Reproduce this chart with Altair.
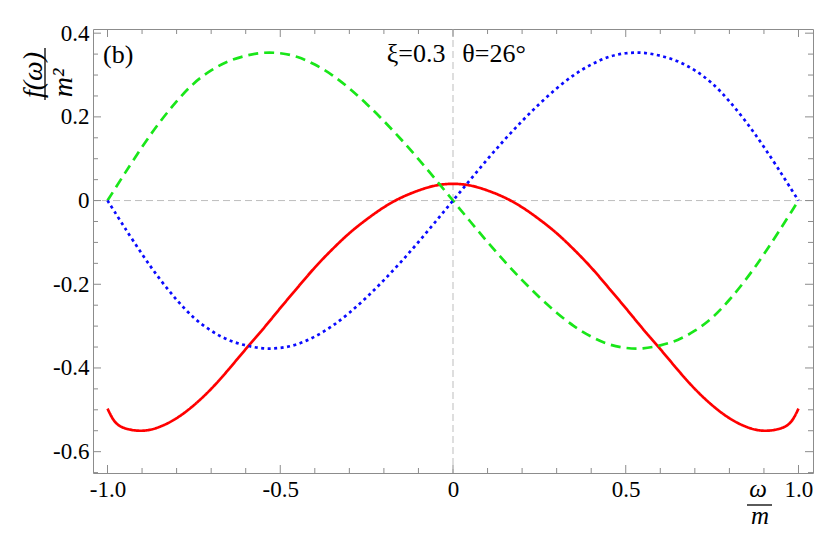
import altair as alt
import pandas as pd

# ---- data ----
omega = [-1.0, -0.98, -0.95, -0.9, -0.85, -0.8, -0.75, -0.7, -0.65, -0.6, -0.55,
         -0.5, -0.45, -0.4, -0.35, -0.3, -0.25, -0.2, -0.15, -0.1, -0.05, 0.0,
         0.05, 0.1, 0.15, 0.2, 0.25, 0.3, 0.35, 0.4, 0.45, 0.5,
         0.55, 0.6, 0.65, 0.7, 0.75, 0.8, 0.85, 0.9, 0.95, 0.98, 1.0]

red = [-0.497, -0.527, -0.544, -0.550, -0.541, -0.520, -0.489, -0.450, -0.404, -0.355, -0.307,
       -0.257, -0.208, -0.160, -0.117, -0.078, -0.045, -0.016, 0.007, 0.024, 0.036, 0.040,
       0.036, 0.024, 0.007, -0.016, -0.045, -0.078, -0.117, -0.160, -0.208, -0.257,
       -0.307, -0.355, -0.404, -0.450, -0.489, -0.520, -0.541, -0.550, -0.544, -0.527, -0.497]

green = [0.0, 0.026, 0.065, 0.128, 0.186, 0.237, 0.280, 0.311, 0.333, 0.346, 0.353,
         0.352, 0.343, 0.325, 0.300, 0.268, 0.231, 0.190, 0.146, 0.099, 0.050, 0.0,
         -0.050, -0.099, -0.146, -0.190, -0.231, -0.268, -0.300, -0.325, -0.343, -0.352,
         -0.353, -0.346, -0.333, -0.311, -0.280, -0.237, -0.186, -0.128, -0.065, -0.026, 0.0]

blue = [0.0, -0.026, -0.065, -0.128, -0.186, -0.237, -0.280, -0.311, -0.333, -0.346, -0.353,
        -0.352, -0.343, -0.325, -0.300, -0.268, -0.231, -0.190, -0.146, -0.099, -0.050, 0.0,
        0.050, 0.099, 0.146, 0.190, 0.231, 0.268, 0.300, 0.325, 0.343, 0.352,
        0.353, 0.346, 0.333, 0.311, 0.280, 0.237, 0.186, 0.128, 0.065, 0.026, 0.0]

x_major = [-1.0, -0.5, 0.0, 0.5, 1.0]
x_minor = [-0.9, -0.8, -0.7, -0.6, -0.4, -0.3, -0.2, -0.1,
           0.1, 0.2, 0.3, 0.4, 0.6, 0.7, 0.8, 0.9]
y_major = [-0.6, -0.4, -0.2, 0.0, 0.2, 0.4]
y_minor = [-0.65, -0.55, -0.5, -0.45, -0.35, -0.3, -0.25, -0.15, -0.1, -0.05,
           0.05, 0.1, 0.15, 0.25, 0.3, 0.35]

series_names = ["red", "green", "blue"]
series_colors = ["#ff0000", "#19e619", "#0a0aff"]
series_dash = [[1, 0], [10, 6], [3, 3.5]]

W, H = 720, 444
XD = [-1.042, 1.042]
YD = [-0.651, 0.41]
FONT = "Liberation Serif, DejaVu Serif, Times New Roman, serif"
FRAME = "#8c8c8c"

rows = []
for name, vals in zip(series_names, [red, green, blue]):
    for xv, yv in zip(omega, vals):
        rows.append({"omega": xv, "f": yv, "series": name})
df = pd.DataFrame(rows)

xs = alt.Scale(domain=XD, nice=False, zero=False)
ys = alt.Scale(domain=YD, nice=False, zero=False)

lab_expr = "datum.value == 0 ? '0' : (datum.value < 0 ? '-' : '') + format(abs(datum.value), '.1f')"

x_axis = alt.Axis(values=x_major, labelExpr=lab_expr, ticks=False, domain=False, grid=False,
                  labelFont=FONT, labelFontSize=23, labelColor="black", labelPadding=5,
                  labelFlush=False, labelOverlap=False, labelBound=False, title=None)
y_axis = alt.Axis(values=y_major, labelExpr=lab_expr, ticks=False, domain=False, grid=False,
                  labelFont=FONT, labelFontSize=23, labelColor="black", labelPadding=4,
                  labelFlush=False, labelOverlap=False, labelBound=False, title=None)

base = alt.Chart(df)

lines = base.mark_line(strokeWidth=2.7, interpolate="natural", clip=True).encode(
    x=alt.X("omega:Q", scale=xs, axis=x_axis),
    y=alt.Y("f:Q", scale=ys, axis=y_axis),
    color=alt.Color("series:N", scale=alt.Scale(domain=series_names, range=series_colors), legend=None),
    strokeDash=alt.StrokeDash("series:N", scale=alt.Scale(domain=series_names, range=series_dash), legend=None),
    detail="series:N",
    order=alt.Order("omega:Q"),
)

zero_df = pd.DataFrame({"v": [0.0]})
vzero = alt.Chart(zero_df).mark_rule(color="#bdbdbd", strokeWidth=1, strokeDash=[7, 4]).encode(
    x=alt.X("v:Q", scale=xs))
hzero = alt.Chart(zero_df).mark_rule(color="#bdbdbd", strokeWidth=1, strokeDash=[7, 4]).encode(
    y=alt.Y("v:Q", scale=ys))

def xticks(vals, length):
    d = pd.DataFrame({"t": vals})
    bot = alt.Chart(d).mark_rule(color=FRAME, strokeWidth=1).encode(
        x=alt.X("t:Q", scale=xs), y=alt.value(H), y2=alt.value(H - length))
    top = alt.Chart(d).mark_rule(color=FRAME, strokeWidth=1).encode(
        x=alt.X("t:Q", scale=xs), y=alt.value(0), y2=alt.value(length))
    return [bot, top]

def yticks(vals, length):
    d = pd.DataFrame({"t": vals})
    lft = alt.Chart(d).mark_rule(color=FRAME, strokeWidth=1).encode(
        y=alt.Y("t:Q", scale=ys), x=alt.value(0), x2=alt.value(length))
    rgt = alt.Chart(d).mark_rule(color=FRAME, strokeWidth=1).encode(
        y=alt.Y("t:Q", scale=ys), x=alt.value(W), x2=alt.value(W - length))
    return [lft, rgt]

ticks = xticks(x_major, 8) + xticks(x_minor, 5) + yticks(y_major, 8) + yticks(y_minor, 5)

ann_df = pd.DataFrame({
    "x": [-1.013, -0.022, 0.027],
    "y": [0.328, 0.331, 0.331],
    "txt": ["(b)", "ξ=0.3", "θ=26°"],
    "al": ["left", "right", "left"],
})
ann_left = alt.Chart(ann_df[ann_df.al == "left"]).mark_text(
    font=FONT, fontSize=26, align="left", baseline="alphabetic", color="black").encode(
    x=alt.X("x:Q", scale=xs), y=alt.Y("y:Q", scale=ys), text="txt:N")
ann_right = alt.Chart(ann_df[ann_df.al == "right"]).mark_text(
    font=FONT, fontSize=26, align="right", baseline="alphabetic", color="black").encode(
    x=alt.X("x:Q", scale=xs), y=alt.Y("y:Q", scale=ys), text="txt:N")

# axis titles as fractions
one = pd.DataFrame({"k": [0]})
yt_num = alt.Chart(one).mark_text(font=FONT, fontSize=28, fontStyle="italic", angle=270,
                                  align="center", baseline="alphabetic", color="black").encode(
    x=alt.value(-51), y=alt.value(46), text=alt.value("f(ω)"))
yt_bar = alt.Chart(one).mark_rule(color="black", strokeWidth=1.3).encode(
    x=alt.value(-48), y=alt.value(19), y2=alt.value(71))
yt_den = alt.Chart(one).mark_text(font=FONT, fontSize=28, fontStyle="italic", angle=270,
                                  align="center", baseline="alphabetic", color="black").encode(
    x=alt.value(-21), y=alt.value(54), text=alt.value("m²"))

xt_num = alt.Chart(one).mark_text(font=FONT, fontSize=25, fontStyle="italic",
                                  align="center", baseline="alphabetic", color="black").encode(
    x=alt.value(665), y=alt.value(468), text=alt.value("ω"))
xt_bar = alt.Chart(one).mark_rule(color="black", strokeWidth=1.3).encode(
    x=alt.value(654), x2=alt.value(679), y=alt.value(476))
xt_den = alt.Chart(one).mark_text(font=FONT, fontSize=25, fontStyle="italic",
                                  align="center", baseline="alphabetic", color="black").encode(
    x=alt.value(667), y=alt.value(495), text=alt.value("m"))

chart = alt.layer(
    vzero, hzero, *ticks, lines, ann_left, ann_right,
    yt_num, yt_bar, yt_den, xt_num, xt_bar, xt_den
).properties(
    width=W, height=H,
    autosize=alt.AutoSizeParams(type="none"),
    padding={"left": 85, "top": 21, "right": 9, "bottom": 56},
    background="white",
).configure_view(
    stroke=FRAME, strokeWidth=1
)

chart.save("out.html", embed_options={"renderer": "svg", "actions": False})
